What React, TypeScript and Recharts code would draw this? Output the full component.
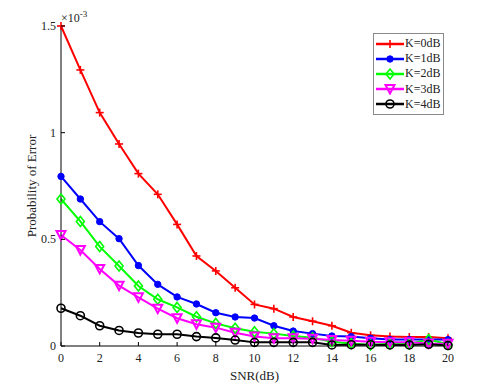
import { LineChart, Line, XAxis, YAxis, Legend, Label } from "recharts";

const FONT = "'Liberation Serif', 'Times New Roman', serif";

// SNR (dB) on the x axis
const snr = [0, 1, 2, 3, 4, 5, 6, 7, 8, 9, 10, 11, 12, 13, 14, 15, 16, 17, 18, 19, 20];

// probability of error, in units of 1e-3 (axis shows "x10^-3")
const k0dB = [1.5, 1.294, 1.094, 0.947, 0.808, 0.711, 0.57, 0.422, 0.352, 0.273, 0.195, 0.175, 0.136, 0.116, 0.095, 0.062, 0.05, 0.044, 0.042, 0.042, 0.036];
const k1dB = [0.795, 0.689, 0.583, 0.503, 0.377, 0.289, 0.23, 0.197, 0.156, 0.136, 0.131, 0.095, 0.07, 0.058, 0.047, 0.044, 0.036, 0.03, 0.03, 0.03, 0.03];
const k2dB = [0.689, 0.584, 0.466, 0.375, 0.281, 0.219, 0.181, 0.137, 0.106, 0.083, 0.067, 0.058, 0.047, 0.039, 0.02, 0.012, 0.005, 0.01, 0.01, 0.03, 0.008];
const k3dB = [0.52, 0.45, 0.361, 0.283, 0.228, 0.175, 0.13, 0.102, 0.086, 0.062, 0.045, 0.036, 0.036, 0.034, 0.028, 0.025, 0.02, 0.018, 0.017, 0.012, 0.01];
const k4dB = [0.177, 0.142, 0.095, 0.073, 0.061, 0.055, 0.055, 0.044, 0.038, 0.028, 0.017, 0.017, 0.017, 0.017, 0.005, 0.006, 0.006, 0.005, 0.005, 0.008, 0.002];

const seriesNames = ["K=0dB", "K=1dB", "K=2dB", "K=3dB", "K=4dB"];
const xTicks = [0, 2, 4, 6, 8, 10, 12, 14, 16, 18, 20];
const yTicks = [0, 0.5, 1, 1.5];

const data = snr.map((s, i) => ({
  snr: s,
  k0: k0dB[i],
  k1: k1dB[i],
  k2: k2dB[i],
  k3: k3dB[i],
  k4: k4dB[i],
}));

type MarkerKind = "plus" | "dot" | "diamond" | "tri" | "circle";

const series: { key: string; name: string; color: string; marker: MarkerKind }[] = [
  { key: "k0", name: seriesNames[0], color: "#ff0000", marker: "plus" },
  { key: "k1", name: seriesNames[1], color: "#0000ff", marker: "dot" },
  { key: "k2", name: seriesNames[2], color: "#00ff00", marker: "diamond" },
  { key: "k3", name: seriesNames[3], color: "#ff00ff", marker: "tri" },
  { key: "k4", name: seriesNames[4], color: "#000000", marker: "circle" },
];

function marker(kind: MarkerKind, cx: number, cy: number, color: string, key?: any) {
  switch (kind) {
    case "plus":
      return (
        <g key={key}>
          <line x1={cx - 4} y1={cy} x2={cx + 4} y2={cy} stroke={color} strokeWidth={1.6} />
          <line x1={cx} y1={cy - 4} x2={cx} y2={cy + 4} stroke={color} strokeWidth={1.6} />
        </g>
      );
    case "dot":
      return <circle key={key} cx={cx} cy={cy} r={3.2} fill={color} stroke={color} />;
    case "diamond":
      return (
        <polygon
          key={key}
          points={`${cx},${cy - 5} ${cx + 4},${cy} ${cx},${cy + 5} ${cx - 4},${cy}`}
          fill="none"
          stroke={color}
          strokeWidth={1.6}
        />
      );
    case "tri":
      return (
        <polygon
          key={key}
          points={`${cx - 4.5},${cy - 4} ${cx + 4.5},${cy - 4} ${cx},${cy + 4.5}`}
          fill="none"
          stroke={color}
          strokeWidth={2}
        />
      );
    default:
      return <circle key={key} cx={cx} cy={cy} r={4} fill="none" stroke={color} strokeWidth={1.6} />;
  }
}

// MATLAB-style ticks: pointing inward, labels outside
const BottomTick = (p: any) => (
  <g>
    <line x1={p.x} y1={p.y} x2={p.x} y2={p.y - 4} stroke="#000" />
    <text x={p.x} y={p.y + 16} textAnchor="middle" fontSize={12} fontFamily={FONT} fill="#222">
      {p.payload.value}
    </text>
  </g>
);
const TopTick = (p: any) => <line x1={p.x} y1={p.y} x2={p.x} y2={p.y + 4} stroke="#000" />;
const LeftTick = (p: any) => (
  <g>
    <line x1={p.x} y1={p.y} x2={p.x + 4} y2={p.y} stroke="#000" />
    <text x={p.x - 5} y={p.y + 4} textAnchor="end" fontSize={12} fontFamily={FONT} fill="#222">
      {String(p.payload.value)}
    </text>
  </g>
);
const RightTick = (p: any) => <line x1={p.x} y1={p.y} x2={p.x - 4} y2={p.y} stroke="#000" />;

function LegendBox() {
  return (
    <div
      style={{
        border: "1px solid #8a8a8a",
        background: "#fff",
        padding: "2px 3px 2px 2px",
        fontFamily: FONT,
        fontSize: 12,
        color: "#222",
      }}
    >
      {series.map((s) => (
        <div key={s.key} style={{ display: "flex", alignItems: "center", height: 15.2 }}>
          <svg width={28} height={12} style={{ marginRight: 1 }}>
            <line x1={0} y1={6} x2={28} y2={6} stroke={s.color} strokeWidth={2.5} />
            {marker(s.marker, 14, 6, s.color)}
          </svg>
          <span>{s.name}</span>
        </div>
      ))}
    </div>
  );
}

export default function App() {
  return (
    <div style={{ position: "absolute", left: 0, top: 0, width: 480, height: 387, background: "#fff" }}>
      <LineChart width={480} height={387} data={data} margin={{ top: 26, right: 32, left: 0, bottom: 0 }}>
        <XAxis
          dataKey="snr"
          type="number"
          domain={[0, 20]}
          ticks={xTicks}
          height={41}
          tickSize={0}
          tickMargin={0}
          tickLine={false}
          tick={<BottomTick />}
          axisLine={{ stroke: "#000" }}
        >
          <Label
            content={(props: any) => (
              <text
                x={props.viewBox.x + props.viewBox.width / 2}
                y={380}
                textAnchor="middle"
                fontSize={13}
                fontFamily={FONT}
                fill="#222"
              >
                SNR(dB)
              </text>
            )}
          />
        </XAxis>
        <XAxis
          xAxisId="top"
          orientation="top"
          dataKey="snr"
          type="number"
          domain={[0, 20]}
          ticks={xTicks}
          height={0}
          tickSize={0}
          tickMargin={0}
          tickLine={false}
          tick={<TopTick />}
          axisLine={{ stroke: "#000" }}
        />
        <YAxis
          type="number"
          domain={[0, 1.5]}
          ticks={yTicks}
          width={61}
          tickSize={0}
          tickMargin={0}
          tickLine={false}
          tick={<LeftTick />}
          axisLine={{ stroke: "#000" }}
        >
          <Label
            content={(props: any) => {
              const cy = props.viewBox.y + props.viewBox.height / 2;
              return (
                <g>
                  <text
                    x={36}
                    y={cy}
                    transform={`rotate(-90 36 ${cy})`}
                    textAnchor="middle"
                    fontSize={13}
                    fontFamily={FONT}
                    fill="#222"
                  >
                    Probability of Error
                  </text>
                  <text x={61} y={22} fontSize={12} fontFamily={FONT} fill="#222">
                    <tspan>×10</tspan>
                    <tspan dy={-5} fontSize={9}>
                      -3
                    </tspan>
                  </text>
                </g>
              );
            }}
          />
        </YAxis>
        <YAxis
          yAxisId="r"
          orientation="right"
          type="number"
          domain={[0, 1.5]}
          ticks={yTicks}
          width={0}
          tickSize={0}
          tickMargin={0}
          tickLine={false}
          tick={<RightTick />}
          axisLine={{ stroke: "#000" }}
        />
        <Legend
          layout="vertical"
          align="center"
          verticalAlign="middle"
          content={() => <LegendBox />}
          wrapperStyle={{ left: 373, top: 33, width: "auto", height: "auto" }}
        />
        {series.map((s) => (
          <Line
            key={s.key}
            dataKey={s.key}
            name={s.name}
            stroke={s.color}
            strokeWidth={2}
            isAnimationActive={false}
            activeDot={false}
            dot={(p: any) => marker(s.marker, p.cx, p.cy, s.color, `${s.key}-${p.index}`)}
          />
        ))}
      </LineChart>
    </div>
  );
}
